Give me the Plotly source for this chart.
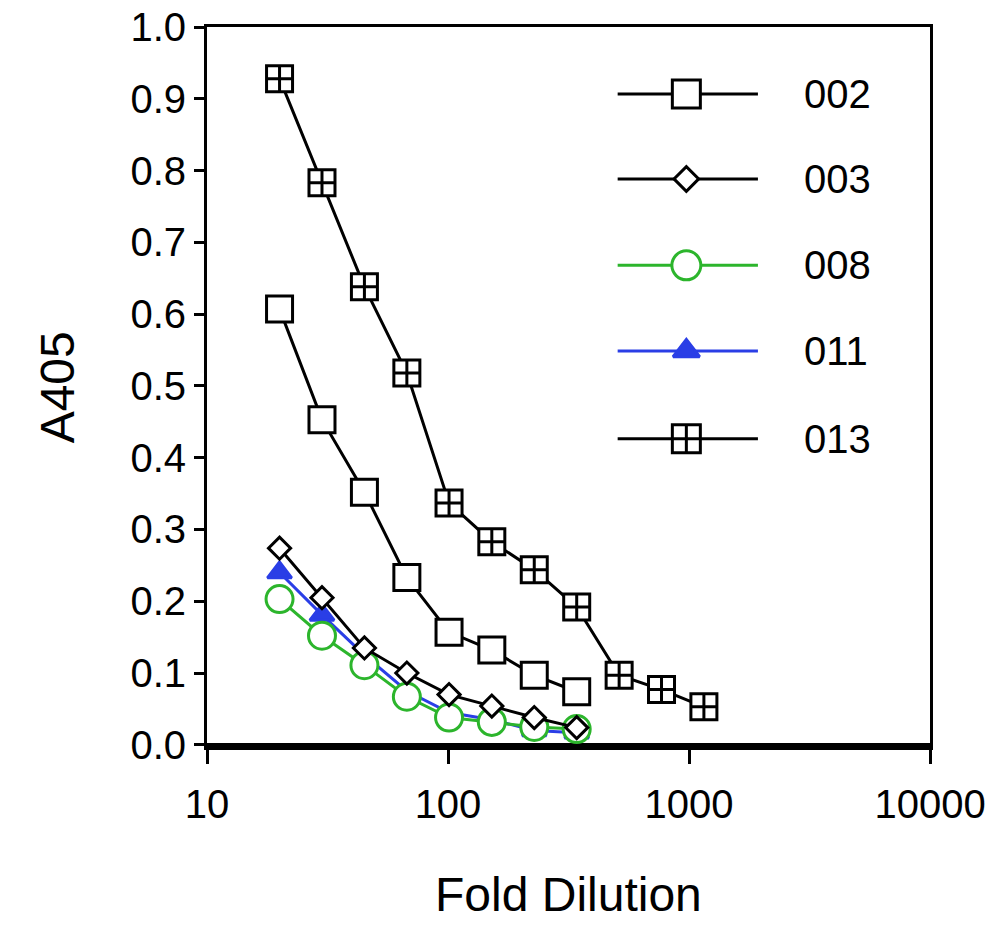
import plotly.graph_objects as go

# ---- data ----
dilution = [20, 30, 45, 67.5, 101, 152, 228, 342, 513, 769, 1153]

a002 = [0.607, 0.453, 0.352, 0.233, 0.157, 0.132, 0.097, 0.074]
a003 = [0.274, 0.205, 0.135, 0.100, 0.070, 0.054, 0.038, 0.024]
a008 = [0.203, 0.152, 0.111, 0.067, 0.038, 0.032, 0.025, 0.022]
a011 = [0.240, 0.181, 0.125, 0.075, 0.045, 0.035, 0.020, 0.017]
a013 = [0.928, 0.783, 0.638, 0.518, 0.337, 0.283, 0.244, 0.192, 0.097, 0.077, 0.053]

series_names = ["002", "003", "008", "011", "013"]
x_ticks = [10, 100, 1000, 10000]
x_tick_labels = ["10", "100", "1000", "10000"]
y_ticks = [0.0, 0.1, 0.2, 0.3, 0.4, 0.5, 0.6, 0.7, 0.8, 0.9, 1.0]
y_tick_labels = ["0.0", "0.1", "0.2", "0.3", "0.4", "0.5", "0.6", "0.7", "0.8", "0.9", "1.0"]

GREEN = "#2cb52c"
BLUE = "#2a3ee6"
BLACK = "#000000"
FONT = "Liberation Sans, Arial, Helvetica, sans-serif"

styles = {
    "002": dict(symbol="square", size=26, color="white", lc=BLACK, line=BLACK),
    "003": dict(symbol="diamond", size=17, color="white", lc=BLACK, line=BLACK),
    "008": dict(symbol="circle", size=27, color="white", lc=GREEN, line=GREEN),
    "011": dict(symbol="triangle-up", size=21, color=BLUE, lc=BLUE, line=BLUE),
    "013": dict(symbol="square-cross", size=26, color="white", lc=BLACK, line=BLACK),
}
values = {"002": a002, "003": a003, "008": a008, "011": a011, "013": a013}

fig = go.Figure()
for name in ["011", "008", "003", "002", "013"]:
    s = styles[name]
    y = values[name]
    fig.add_trace(go.Scatter(
        x=dilution[:len(y)], y=y, name=name, mode="lines+markers",
        line=dict(color=s["line"], width=3),
        marker=dict(symbol=s["symbol"], size=s["size"], color=s["color"], opacity=1,
                    line=dict(color=s["lc"], width=3)),
        showlegend=False,
    ))

# ---- manual legend (layout positions in an overlay axis 0..1) ----
leg_rows = [0.907, 0.789, 0.669, 0.550, 0.428]
x0, xm, x1 = 0.568, 0.663, 0.762
for name, yr in zip(series_names, leg_rows):
    s = styles[name]
    lsize = s["size"] + 2
    fig.add_trace(go.Scatter(
        x=[x0, xm, x1], y=[yr, yr, yr], mode="lines+markers",
        xaxis="x2", yaxis="y2", showlegend=False, hoverinfo="skip",
        line=dict(color=s["line"], width=3),
        marker=dict(symbol=s["symbol"], size=[0, lsize, 0], color=s["color"], opacity=1,
                    line=dict(color=s["lc"], width=3)),
    ))
    fig.add_annotation(x=0.823, y=yr, xref="paper", yref="paper", text=name,
                       showarrow=False, xanchor="left", yanchor="middle",
                       font=dict(family=FONT, size=40, color=BLACK))

fig.add_annotation(x=0.5, y=-0.205, xref="paper", yref="paper", text="Fold Dilution",
                   showarrow=False, xanchor="center", yanchor="middle",
                   font=dict(family=FONT, size=48, color=BLACK))
fig.add_annotation(x=-0.207, y=0.5, xref="paper", yref="paper", text="A405",
                   showarrow=False, textangle=-90, xanchor="center", yanchor="middle",
                   font=dict(family=FONT, size=48, color=BLACK))

fig.update_layout(
    width=1004, height=942,
    margin=dict(l=207, r=74, t=27, b=195, autoexpand=False),
    paper_bgcolor="white", plot_bgcolor="white",
    font=dict(family=FONT, size=40, color=BLACK),
    xaxis=dict(type="log", range=[1, 4], tickvals=x_ticks, ticktext=x_tick_labels,
               ticks="outside", ticklen=14, tickwidth=3, tickcolor=BLACK,
               showline=True, linewidth=3, linecolor=BLACK, mirror=True,
               showgrid=False, zeroline=False, tickfont=dict(size=40),
               ticklabelstandoff=6, automargin=False),
    yaxis=dict(range=[-0.003, 1.0], tickvals=y_ticks, ticktext=y_tick_labels,
               ticks="outside", ticklen=10, tickwidth=3, tickcolor=BLACK,
               showline=True, linewidth=3, linecolor=BLACK, mirror=True,
               showgrid=False, zeroline=True, zerolinecolor=BLACK, zerolinewidth=4,
               tickfont=dict(size=40), automargin=False),
    xaxis2=dict(overlaying="x", range=[0, 1], visible=False, domain=[0, 1]),
    yaxis2=dict(overlaying="y", range=[0, 1], visible=False),
)

fig.write_html(
    "out.html",
    config={"displayModeBar": False},
    post_script="document.body.style.margin='0';document.body.style.overflow='hidden';",
)
